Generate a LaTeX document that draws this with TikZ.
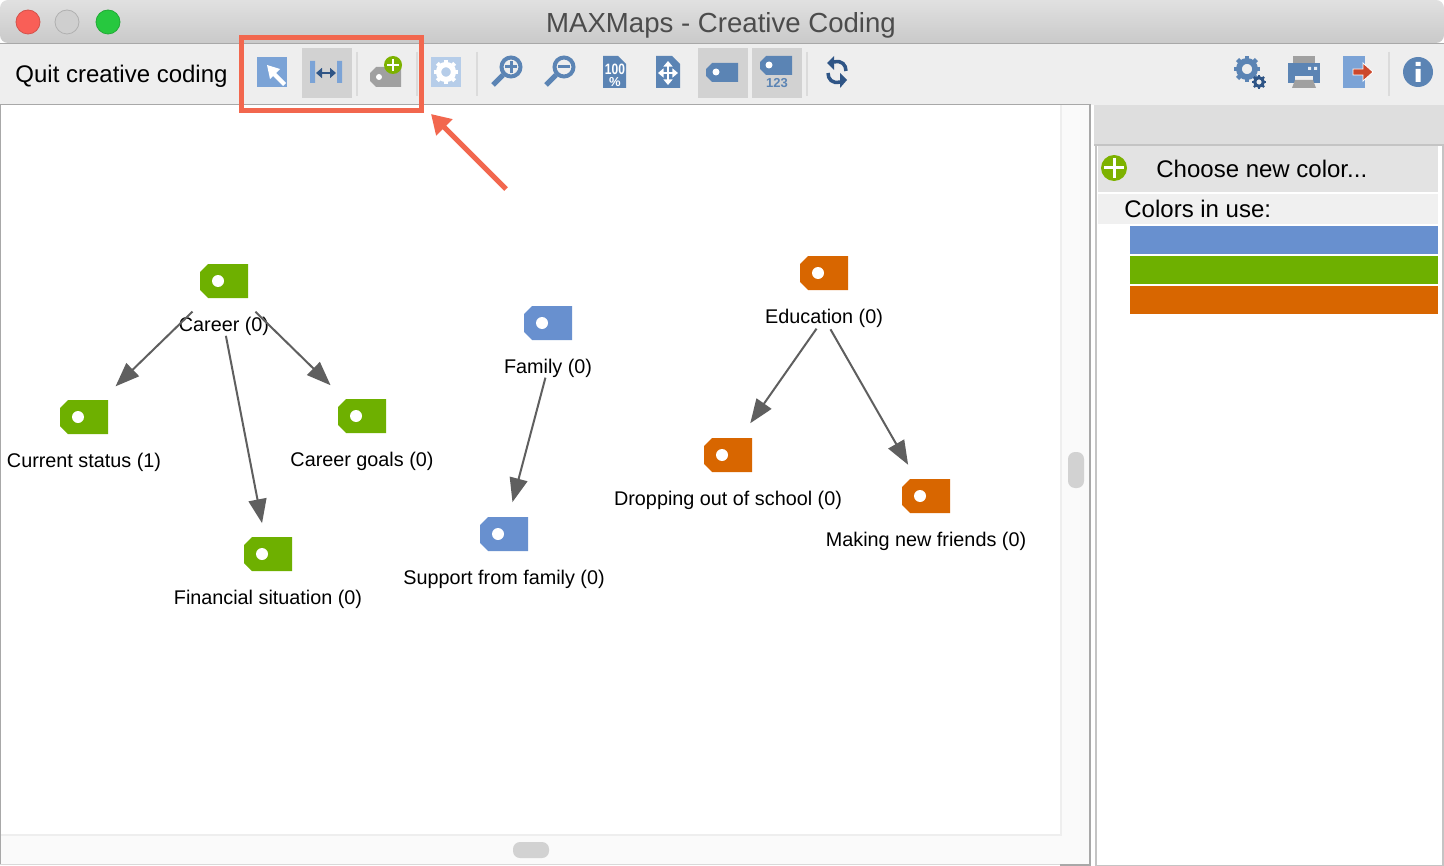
\documentclass[tikz,border=0pt]{standalone}
\usepackage{fontspec}
\setmainfont{Liberation Sans}
\usepackage{xcolor}
\usetikzlibrary{positioning, arrows.meta}
\definecolor{tagblue}{HTML}{6890CF}
\definecolor{taggreen}{HTML}{6EB000}
\definecolor{tagorange}{HTML}{D86600}
\definecolor{iconblue}{HTML}{5B84B4}
\definecolor{iconlight}{HTML}{7BA3D6}
\definecolor{iconnavy}{HTML}{2F5586}
\definecolor{icongray}{HTML}{A0A0A0}
\definecolor{pressed}{HTML}{D2D2D2}
\definecolor{barface}{HTML}{EEEEEE}
\definecolor{framegray}{HTML}{A8A8A8}
\definecolor{gutter}{HTML}{FAFAFA}
\definecolor{plusgreen}{HTML}{7DB200}
\definecolor{markred}{HTML}{F2674E}
\definecolor{exportred}{HTML}{CC482C}
\definecolor{edgegray}{HTML}{5F5F5F}
\tikzstyle{maptag} = [rectangle, minimum width=24pt, minimum height=17pt, inner sep=0pt, path picture={
	\fill[#1] ([xshift=4pt]path picture bounding box.north west) -- (path picture bounding box.north east) -- (path picture bounding box.south east) -- ([xshift=4pt]path picture bounding box.south west) -- ([yshift=4pt]path picture bounding box.south west) -- ([yshift=-4pt]path picture bounding box.north west) -- cycle;
	\fill[white] ([xshift=-3pt]path picture bounding box.center) circle (3pt);}]
\tikzstyle{maplabel} = [inner sep=0pt, font=\fontsize{9.9}{12}\selectfont]
\tikzstyle{arrow} = [line width=1pt, edgegray, ->, >={Stealth[inset=0pt,length=12pt,width=9pt]}]
\tikzstyle{barlabel} = [inner sep=0pt, font=\fontsize{12}{14}\selectfont]
\tikzstyle{separator} = [line width=1pt, pressed!80!white]
\tikzstyle{thumb} = [fill=pressed, rounded corners=3.5pt]
\newcommand{\gearicon}[5]{% x, y, radius, colour, hole colour
	\foreach \a in {0,45,...,315}
		\draw[#4, line width=#3*0.17pt] (#1,#2) ++(\a:#3*0.7) -- ++(\a:#3*0.33);
	\draw[#4, line width=#3*0.22pt] (#1,#2) circle (#3*0.62);
}
\begin{document}
\begin{tikzpicture}[x=0.5pt, y=-0.5pt, node distance=22.5pt]
	\useasboundingbox (0,0) rectangle (1444,866);
	%window
	\fill[barface] (0,44) rectangle (1444,105);
	\path[top color=white!88!black, bottom color=white!79!black, rounded corners=4pt] (0,43) -- (0,0) -- (1444,0) -- (1444,43) -- cycle;
	\draw[framegray, line width=0.5pt] (0,43.5) -- (1444,43.5);
	\fill[white] (0,105) rectangle (1060,834);
	\fill[gutter] (1062,105) rectangle (1089,864);
	\fill[gutter] (0,836) rectangle (1089,864);
	\draw[barface, line width=1pt] (1061,105) -- (1061,835) -- (0,835);
	\draw[white!85!black, line width=0.5pt] (0,864.5) -- (1060,864.5);
	\draw[framegray, line width=0.5pt] (0.5,104.5) -- (0.5,864);
	\draw[framegray, line width=0.5pt] (0,104.5) -- (1090,104.5);
	\draw[framegray, line width=1pt] (1090,104.5) -- (1090,864.5) -- (1060,864.5);
	\fill[thumb] (1068,452) rectangle (1084,488);
	\fill[thumb] (513,842) rectangle (549,858);
	\node (title) [inner sep=0pt, text=black!70, font=\fontsize{13.8}{16}\selectfont] at (721,25) {MAXMaps - Creative Coding};
	\foreach \cx/\col in {28/F95F57,67/CFCFCF,108/27C83F}
		{\definecolor{dot}{HTML}{\col}\draw[fill=dot, draw=dot!85!black, line width=0.4pt] (\cx,22) circle (12);}
	
	%left part of the toolbar
	\node (quit) [barlabel] at (121.5,76) {Quit creative coding};
	\foreach \sx in {357,417,477,807,1389}
		\draw[separator] (\sx,52) -- (\sx,96);
	\foreach \px in {302,698,752}
		\fill[pressed] (\px,48) rectangle (\px+50,98);
	\fill[iconlight] (257,57) rectangle (287,87);
	\fill[white] (267,65) -- (280,69) -- (276,73) -- (286,83) -- (283,86) -- (273,76) -- (270,79) -- cycle;
	\fill[iconlight] (310,61) rectangle (315,83) (337,61) rectangle (342,83);
	\draw[iconnavy, line width=1pt, {Stealth[length=3pt,width=5pt,inset=0pt]}-{Stealth[length=3pt,width=5pt,inset=0pt]}] (316,73) -- (336,73);
	\fill[icongray] (376,67) -- (401,67) -- (401,87) -- (376,87) -- (370,81) -- (370,73) -- cycle;
	\fill[white] (379,77) circle (3);
	\fill[plusgreen] (393,65) circle (9);
	\draw[white, line width=1pt] (387,65) -- (399,65) (393,59) -- (393,71);
	\fill[iconlight!55!white] (431,57) rectangle (461,87);
	\gearicon{446}{72}{12}{white}{iconlight!55!white}
	
	%zoom and view buttons
	\foreach \zx in {511,564}
		{\draw[iconblue, line width=2pt] (\zx,67) circle (9.5);
		\draw[iconblue, line width=2.6pt] (\zx-8,75) -- (\zx-18,85);}
	\draw[iconblue, line width=1.5pt] (505,67) -- (517,67) (511,61) -- (511,73);
	\draw[iconblue, line width=1.5pt] (558,67) -- (570,67);
	\fill[iconblue] (603,56) -- (618,56) -- (626,64) -- (626,88) -- (603,88) -- cycle;
	\node (hundred) [inner sep=0pt, text=white, font=\bfseries\fontsize{7.5}{8}\selectfont, xscale=0.8] at (615,69) {100};
	\node (percent) [inner sep=0pt, text=white, font=\bfseries\fontsize{6.5}{7}\selectfont] at (615,82) {\%};
	\fill[iconblue] (656,56) -- (672,56) -- (680,64) -- (680,88) -- (656,88) -- cycle;
	\draw[white, line width=1pt, {Stealth[length=2.8pt,width=4.5pt,inset=0pt]}-{Stealth[length=2.8pt,width=4.5pt,inset=0pt]}] (658,73) -- (678,73);
	\draw[white, line width=1pt, {Stealth[length=2.8pt,width=4.5pt,inset=0pt]}-{Stealth[length=2.8pt,width=4.5pt,inset=0pt]}] (668,61) -- (668,85);
	\fill[iconblue] (712,63) -- (738,63) -- (738,82) -- (712,82) -- (706,76) -- (706,69) -- cycle;
	\fill[white] (716,72) circle (3.5);
	\fill[iconblue] (766,56) -- (792,56) -- (792,75) -- (766,75) -- (760,69) -- (760,62) -- cycle;
	\fill[white] (769,65) circle (3.5);
	\node (numbers) [inner sep=0pt, text=iconblue, font=\bfseries\fontsize{6.5}{8}\selectfont] at (777,83) {123};
	\draw[iconnavy, line width=1.75pt] (834,62) .. controls (842,60) and (846,65) .. (846,71);
	\draw[iconnavy, line width=1.75pt] (840,82) .. controls (832,84) and (828,79) .. (828,73);
	\fill[iconnavy] (834,56) -- (834,70) -- (827,63) -- cycle (840,73) -- (840,88) -- (847,80) -- cycle;
	
	%right part of the toolbar
	\gearicon{1247}{69}{13}{iconblue}{barface}
	\gearicon{1259}{82}{7}{iconnavy}{barface}
	\fill[icongray] (1293,56) rectangle (1315,63);
	\fill[iconblue] (1288,63) rectangle (1320,83);
	\fill[barface] (1295,76) rectangle (1313,80);
	\fill[icongray] (1295,80) -- (1313,80) -- (1316,88) -- (1292,88) -- cycle;
	\fill[white!85!iconblue] (1308,67) rectangle (1311,70) (1314,67) rectangle (1317,70);
	\fill[iconlight] (1343,56) rectangle (1365,88);
	\fill[exportred, draw=white, line width=0.4pt] (1353,69) -- (1363,69) -- (1363,63) -- (1373,72) -- (1363,81) -- (1363,75) -- (1353,75) -- cycle;
	\fill[iconblue] (1418,72) circle (15);
	\fill[white] (1415.5,69) rectangle (1420.5,82) (1415.5,62) rectangle (1420.5,66);
	
	%right panel
	\fill[white!87!black] (1094,105) rectangle (1444,144);
	\draw[white!77!black, line width=1pt] (1095.5,145) -- (1095.5,865.5) -- (1443,865.5) -- (1443,145) -- (1094,145);
	\fill[white!89!black] (1098,146) rectangle (1438,192);
	\fill[white!94!black] (1098,194) rectangle (1438,224);
	\fill[plusgreen] (1114,168) circle (13);
	\draw[white, line width=1.5pt] (1104,168) -- (1124,168) (1114,158) -- (1114,178);
	\node (choose) [barlabel, anchor=west] at (1156,169) {Choose new color...};
	\node (inuse) [barlabel, anchor=west] at (1124,209) {Colors in use:};
	\fill[tagblue] (1130,226) rectangle (1438,254);
	\fill[taggreen] (1130,256) rectangle (1438,284);
	\fill[tagorange] (1130,286) rectangle (1438,314);
	
	%codes of the map
	\node (career) [maptag=taggreen] at (224,281) {};
	\node (current) [maptag=taggreen] at (84,417) {};
	\node (goals) [maptag=taggreen] at (362,416) {};
	\node (financial) [maptag=taggreen] at (268,554) {};
	\node (family) [maptag=tagblue] at (548,323) {};
	\node (support) [maptag=tagblue] at (504,534) {};
	\node (education) [maptag=tagorange] at (824,273) {};
	\node (dropping) [maptag=tagorange] at (728,455) {};
	\node (friends) [maptag=tagorange] at (926,496) {};
	
	\node (careertext) [maplabel, below of=career] {Career (0)};
	\node (currenttext) [maplabel, below of=current] {Current status (1)};
	\node (goalstext) [maplabel, below of=goals] {Career goals (0)};
	\node (financialtext) [maplabel, below of=financial] {Financial situation (0)};
	\node (familytext) [maplabel, below of=family] {Family (0)};
	\node (supporttext) [maplabel, below of=support] {Support from family (0)};
	\node (educationtext) [maplabel, below of=education] {Education (0)};
	\node (droppingtext) [maplabel, below of=dropping] {Dropping out of school (0)};
	\node (friendstext) [maplabel, below of=friends] {Making new friends (0)};
	
	\draw [arrow, shorten <=22pt, shorten >=22pt](career.center) -- (current.center);
	\draw [arrow, shorten <=22pt, shorten >=22pt](career.center) -- (goals.center);
	\draw [arrow, shorten <=5pt, shorten >=15.7pt](careertext.center) -- (financial.center);
	\draw [arrow, shorten <=5pt, shorten >=16.5pt](familytext.center) -- (support.center);
	\draw [arrow, shorten <=6.5pt, shorten >=19.4pt](educationtext.center) -- (dropping.center);
	\draw [arrow, shorten <=6.5pt, shorten >=18pt](educationtext.center) -- (friends.center);
	
	%highlight of the tools
	\node (highlight) [draw=markred, line width=2.5pt, minimum width=90pt, minimum height=36.5pt, inner sep=0pt] at (331.5,74) {};
	\coordinate (markstart) at (506,189);
	\coordinate (marktip) at (431,114);
	\draw[markred, line width=2.5pt, -{Stealth[inset=0pt,length=9.5pt,width=11pt]}] (markstart) -- (marktip);
\end{tikzpicture}
\end{document}
